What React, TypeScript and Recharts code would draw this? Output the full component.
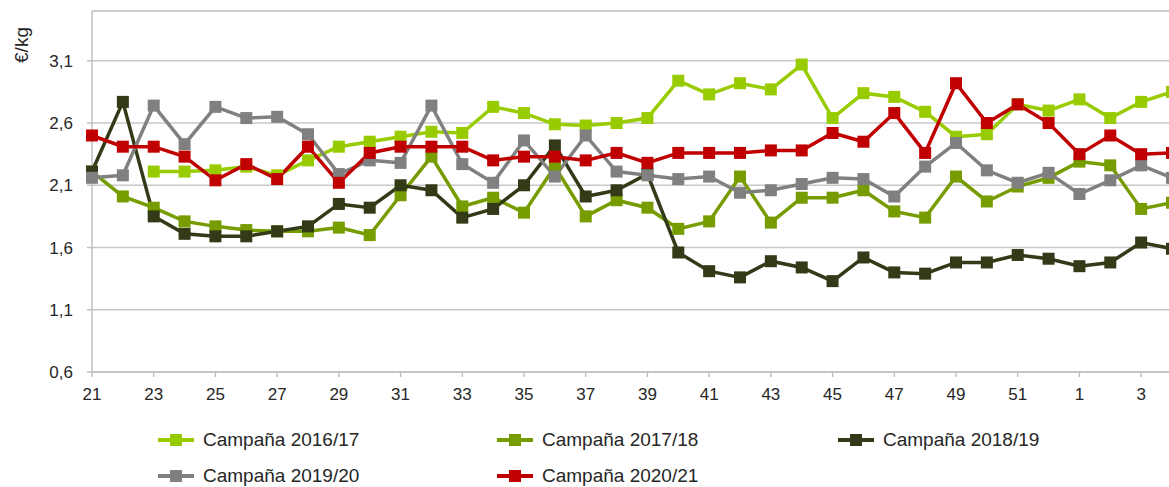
import React from 'react';
import { LineChart, Line, XAxis, YAxis, CartesianGrid, ReferenceLine, Legend } from 'recharts';

const weeks = ['21','22','23','24','25','26','27','28','29','30','31','32','33','34','35','36','37','38','39','40','41','42','43','44','45','46','47','48','49','50','51','52','1','2','3','4'];

const camp1617 = [null, null, 2.21, 2.21, 2.22, 2.25, 2.18, 2.30, 2.41, 2.45, 2.49, 2.53, 2.52, 2.73, 2.68, 2.59, 2.58, 2.60, 2.64, 2.94, 2.83, 2.92, 2.87, 3.07, 2.64, 2.84, 2.81, 2.69, 2.49, 2.51, 2.75, 2.70, 2.79, 2.64, 2.77, 2.85];
const camp1718 = [2.21, 2.01, 1.92, 1.81, 1.77, 1.74, 1.73, 1.73, 1.76, 1.70, 2.02, 2.33, 1.93, 2.00, 1.88, 2.25, 1.85, 1.98, 1.92, 1.75, 1.81, 2.17, 1.80, 2.00, 2.00, 2.06, 1.89, 1.84, 2.17, 1.97, 2.09, 2.16, 2.29, 2.26, 1.91, 1.96];
const camp1819 = [2.21, 2.77, 1.85, 1.71, 1.69, 1.69, 1.73, 1.77, 1.95, 1.92, 2.10, 2.06, 1.84, 1.91, 2.10, 2.42, 2.01, 2.06, 2.19, 1.56, 1.41, 1.36, 1.49, 1.44, 1.33, 1.52, 1.40, 1.39, 1.48, 1.48, 1.54, 1.51, 1.45, 1.48, 1.64, 1.59];
const camp1920 = [2.16, 2.18, 2.74, 2.43, 2.73, 2.64, 2.65, 2.51, 2.19, 2.30, 2.28, 2.74, 2.27, 2.12, 2.46, 2.17, 2.50, 2.21, 2.18, 2.15, 2.17, 2.04, 2.06, 2.11, 2.16, 2.15, 2.01, 2.25, 2.44, 2.22, 2.12, 2.20, 2.03, 2.14, 2.26, 2.16];
const camp2021 = [2.50, 2.41, 2.41, 2.33, 2.14, 2.27, 2.15, 2.41, 2.12, 2.36, 2.41, 2.41, 2.41, 2.30, 2.33, 2.33, 2.30, 2.36, 2.28, 2.36, 2.36, 2.36, 2.38, 2.38, 2.52, 2.45, 2.68, 2.36, 2.92, 2.60, 2.75, 2.60, 2.35, 2.50, 2.35, 2.36];

const yTicks = [0.6, 1.1, 1.6, 2.1, 2.6, 3.1];
const yMax = 3.5;

const seriesDefs = [
  { key: 's1617', name: 'Campaña 2016/17', color: '#99CC00', values: camp1617 },
  { key: 's1718', name: 'Campaña 2017/18', color: '#769C00', values: camp1718 },
  { key: 's1819', name: 'Campaña 2018/19', color: '#333A17', values: camp1819 },
  { key: 's1920', name: 'Campaña 2019/20', color: '#808080', values: camp1920 },
  { key: 's2021', name: 'Campaña 2020/21', color: '#C00000', values: camp2021 },
];

const data = weeks.map((w, i) => {
  const row: any = { week: w };
  seriesDefs.forEach((s) => { row[s.key] = s.values[i]; });
  return row;
});

const FONT = '"Liberation Sans", Arial, sans-serif';
const TEXT = '#262626';
const GRID = '#c8c8c8';

const makeDot = (color: string) => (p: any) => {
  const { cx, cy, index, value } = p;
  if (cx == null || cy == null || value == null || isNaN(cy)) return <g key={`d-${index}`} />;
  return <rect key={`d-${index}`} x={cx - 6} y={cy - 6} width={12} height={12} fill={color} />;
};

const LegendContent = () => (
  <div style={{ display: 'grid', gridTemplateColumns: '339px 341px 340px', marginLeft: 158, fontFamily: FONT, fontSize: 19, color: TEXT }}>
    {seriesDefs.map((s) => (
      <div key={s.key} style={{ display: 'flex', alignItems: 'center', height: 36 }}>
        <svg width={36} height={14} style={{ marginRight: 9 }}>
          <line x1={0} y1={7} x2={36} y2={7} stroke={s.color} strokeWidth={4} />
          <rect x={12} y={1} width={12} height={12} fill={s.color} />
        </svg>
        <span style={{ whiteSpace: 'pre' }}>{s.name}</span>
      </div>
    ))}
  </div>
);

export default function App() {
  return (
    <div style={{ position: 'fixed', left: 0, top: 0, width: 1169, height: 487, overflow: 'hidden', background: '#fff' }}>
      <LineChart width={1200} height={487} data={data} margin={{ top: 11, right: 28, left: 0, bottom: 85 }}>
        <CartesianGrid vertical={false} stroke={GRID} strokeWidth={1.5} />
        <ReferenceLine y={yMax} stroke={GRID} strokeWidth={1.5} />
        <XAxis
          dataKey="week"
          interval={1}
          height={30}
          tickSize={5}
          tickMargin={11}
          stroke={GRID}
          axisLine={{ stroke: '#bfbfbf', strokeWidth: 1.5 }}
          tickLine={{ stroke: '#bfbfbf', strokeWidth: 1.5 }}
          tick={{ fill: TEXT, fontSize: 17, fontFamily: FONT }}
          padding={{ left: 0, right: 0 }}
        />
        <YAxis
          width={92}
          domain={[0.6, yMax]}
          ticks={yTicks}
          tickSize={5}
          tickMargin={14}
          axisLine={{ stroke: '#bfbfbf', strokeWidth: 1.5 }}
          tickLine={{ stroke: '#bfbfbf', strokeWidth: 1.5 }}
          tick={{ fill: TEXT, fontSize: 17, fontFamily: FONT }}
          tickFormatter={(v: number) => v.toFixed(1).replace('.', ',')}
          label={() => (
            <text x={21} y={45} transform="rotate(-90 21 45)" textAnchor="middle" dominantBaseline="central" fill={TEXT} fontSize={19} fontFamily={FONT}>€/kg</text>
          )}
        />
        <Legend
          layout="horizontal"
          verticalAlign="middle"
          align="center"
          content={<LegendContent />}
          wrapperStyle={{ position: 'absolute', top: 422, left: 0, width: 1169, height: 72 }}
        />
        {seriesDefs.map((s) => (
          <Line
            key={s.key}
            dataKey={s.key}
            name={s.name}
            stroke={s.color}
            strokeWidth={3.5}
            dot={makeDot(s.color)}
            activeDot={false}
            isAnimationActive={false}
            type="linear"
          />
        ))}
      </LineChart>
    </div>
  );
}
